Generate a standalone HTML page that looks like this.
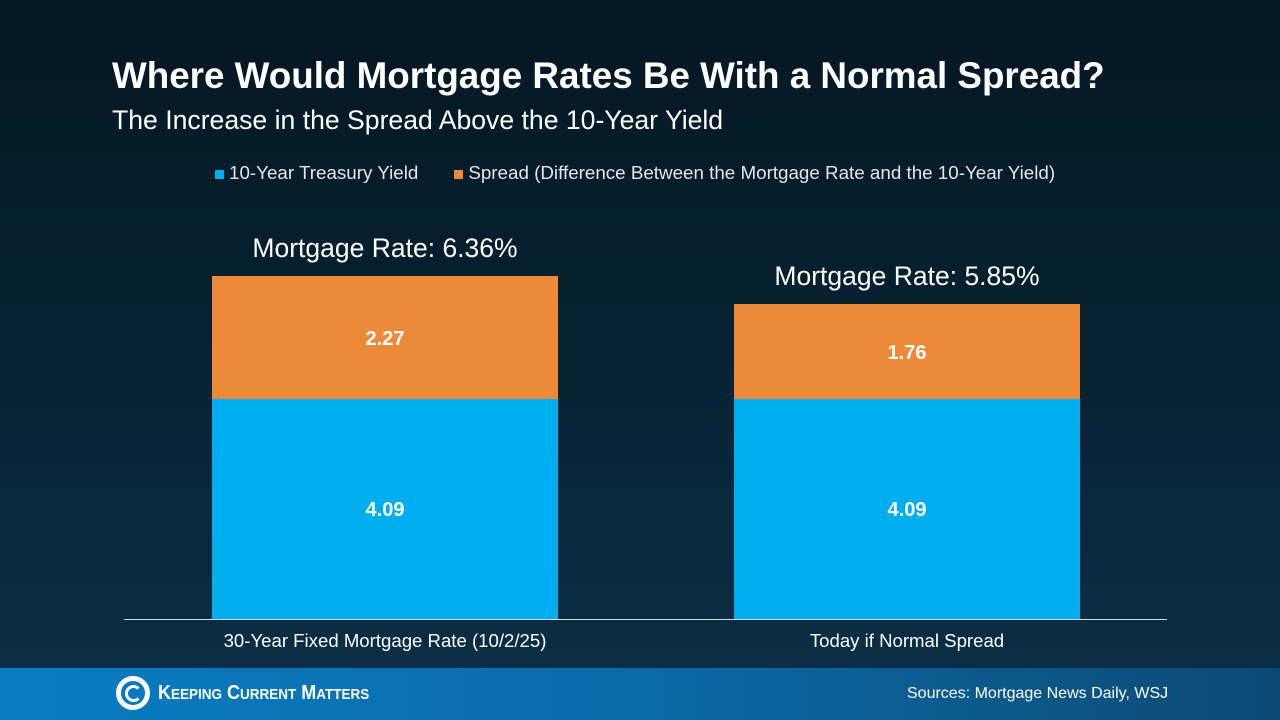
<!DOCTYPE html>
<html><head><meta charset="utf-8"><style>
*{margin:0;padding:0}
body{width:1280px;height:720px;position:relative;overflow:hidden;font-family:"Liberation Sans",Arial,sans-serif;color:#fff;
background:linear-gradient(180deg,#031722 0%,#06202f 40%,#0b3048 100%)}
.a{position:absolute;white-space:nowrap}
.bar{position:absolute}
.v{position:absolute;width:100%;text-align:center;font-weight:bold;font-size:20px}
</style></head><body>
<div class="a" style="left:112px;top:55px;font-size:36.8px;font-weight:bold">Where Would Mortgage Rates Be With a Normal Spread?</div>
<div class="a" style="left:112px;top:105px;font-size:26.6px">The Increase in the Spread Above the 10-Year Yield</div>
<div class="a" style="left:215px;top:162px;font-size:18.8px;color:#e6e6e6"><span style="display:inline-block;width:9px;height:9px;background:#00aeef;margin-right:5px"></span>10-Year Treasury Yield<span style="display:inline-block;width:9px;height:9px;background:#ed8a3a;margin:0 5px 0 36px"></span>Spread (Difference Between the Mortgage Rate and the 10-Year Yield)</div>
<div class="a" style="left:212px;width:346px;text-align:center;top:233px;font-size:26.5px">Mortgage Rate: 6.36%</div>
<div class="a" style="left:734px;width:346px;text-align:center;top:261px;font-size:26.5px">Mortgage Rate: 5.85%</div>
<div class="bar" style="left:212px;width:346px;top:276px;height:123px;background:#ed8a3a"><div class="v" style="top:52px">2.27</div></div>
<div class="bar" style="left:212px;width:346px;top:399px;height:220px;background:#00aeef"><div class="v" style="top:100px">4.09</div></div>
<div class="bar" style="left:734px;width:346px;top:304px;height:95px;background:#ed8a3a"><div class="v" style="top:38px">1.76</div></div>
<div class="bar" style="left:734px;width:346px;top:399px;height:220px;background:#00aeef"><div class="v" style="top:100px">4.09</div></div>
<div class="a" style="left:124px;width:1043px;top:619px;height:1px;background:#d9d9d9"></div>
<div class="a" style="left:212px;width:346px;text-align:center;top:630px;font-size:18.6px">30-Year Fixed Mortgage Rate (10/2/25)</div>
<div class="a" style="left:734px;width:346px;text-align:center;top:630px;font-size:18.6px">Today if Normal Spread</div>
<div class="a" style="left:0;top:668px;width:1280px;height:52px;background:linear-gradient(90deg,#0a7dc2 0%,#0a6aa8 50%,#0c4a73 100%)"></div>
<div class="a" style="left:116px;top:676px;width:24px;height:24px;border:5px solid #fff;border-radius:50%"></div>
<div class="a" style="left:125px;top:685px;width:11px;height:11px;border:3px solid #fff;border-radius:50%;border-right-color:transparent"></div>
<div class="a" style="left:158px;top:682px;font-size:20px;font-weight:bold;transform:scaleX(0.9);transform-origin:left">K<span style="font-size:15px">EEPING</span> C<span style="font-size:15px">URRENT</span> M<span style="font-size:15px">ATTERS</span></div>
<div class="a" style="left:907px;top:685px;font-size:16px">Sources: Mortgage News Daily, WSJ</div>
</body></html>
